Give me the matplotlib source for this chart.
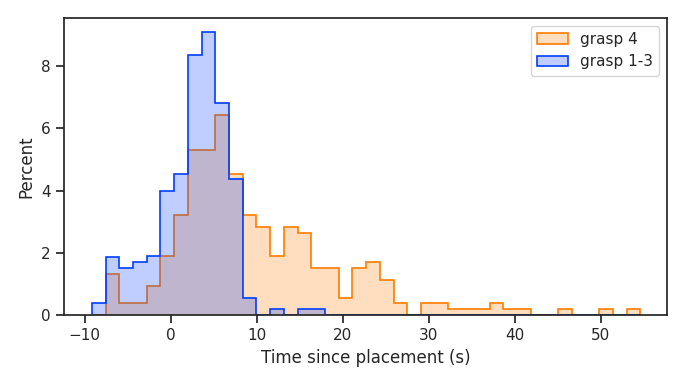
import numpy as np
import matplotlib
matplotlib.use('Agg')
import matplotlib.pyplot as plt
import seaborn as sns
from matplotlib.patches import Patch

# shared histogram bins (seconds)
bin_start = -9.15
bin_width = 1.594
n_bins = 40

# percent per bin, normalised over both groups
pct_grasp13 = [0.38, 1.88, 1.50, 1.69, 1.89, 3.98, 4.52, 8.37, 9.10, 6.82, 4.36, 0.56,
               0, 0.19, 0, 0.19, 0.19, 0, 0, 0, 0, 0, 0, 0, 0, 0, 0, 0, 0, 0,
               0, 0, 0, 0, 0, 0, 0, 0, 0, 0]
pct_grasp4 = [0, 1.32, 0.38, 0.38, 0.94, 1.89, 3.20, 5.30, 5.30, 6.44, 4.52, 3.20,
              2.82, 1.89, 2.82, 2.63, 1.51, 1.51, 0.56, 1.51, 1.69, 1.13, 0.38, 0,
              0.38, 0.38, 0.19, 0.19, 0.19, 0.38, 0.19, 0.19, 0, 0, 0.19, 0, 0,
              0.19, 0, 0.19]

labels = ['grasp 4', 'grasp 1-3']
col_orange = '#ff7c00'
col_blue = '#023eff'

sns.set_theme(style='ticks')

edges = bin_start + bin_width * np.arange(n_bins + 1)

fig = plt.figure(figsize=(6.85, 3.85), dpi=100)
ax = fig.add_axes([0.0934, 0.1818, 0.8803, 0.7714])

for vals, c in [(pct_grasp4, col_orange), (pct_grasp13, col_blue)]:
    vals = np.asarray(vals)
    ax.fill_between(edges, np.append(vals, vals[-1]), step='post', color=c, alpha=0.25, linewidth=0)
    ax.stairs(vals, edges, baseline=0, color=c, linewidth=1.2)

ax.set_xlim(-12.4, 57.7)
ax.set_ylim(0, 9.55)
ax.set_xticks([-10, 0, 10, 20, 30, 40, 50])
ax.set_yticks([0, 2, 4, 6, 8])
ax.set_xlabel('Time since placement (s)')
ax.set_ylabel('Percent')

handles = [Patch(facecolor=matplotlib.colors.to_rgba(c, 0.25), edgecolor=c, linewidth=1.2)
           for c in [col_orange, col_blue]]
ax.legend(handles, labels, loc='upper right')

fig.savefig('out.png', dpi=100)
